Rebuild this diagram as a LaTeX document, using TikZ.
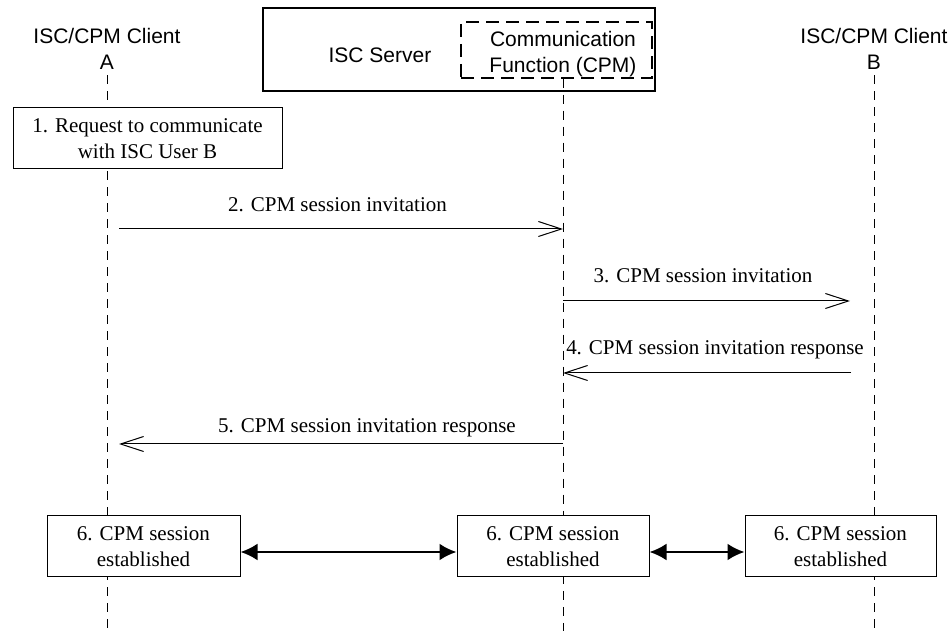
\documentclass[tikz,border=0pt]{standalone}
\usepackage{fontspec}
\setmainfont{Liberation Serif}
\setsansfont{Liberation Sans}
\usetikzlibrary{arrows.meta}

\begin{document}
\begin{tikzpicture}[x=0.5pt,y=-0.5pt,
    font=\fontsize{10.5}{13}\selectfont,
    entity/.style={font=\sffamily\fontsize{10.5}{13}\selectfont, align=center, inner sep=0pt},
    lifeline/.style={line width=0.4pt, dash pattern=on 4.5pt off 3.5pt},
    stepbox/.style={draw, line width=0.5pt, fill=white, align=center, inner sep=0pt},
    estbox/.style={stepbox, minimum height=30.5pt},
    msg/.style={line width=0.5pt, -{Straight Barb[length=11.5pt,width=7.5pt]}},
    msglabel/.style={inner sep=0pt, anchor=base},
    sync/.style={line width=1.2pt, {Latex[length=8.5pt,width=8.5pt]}-{Latex[length=8.5pt,width=8.5pt]}}]
    \useasboundingbox (0,0) rectangle (950,631);

    % entities
    \node[entity] (clientA) at (107,49) {ISC/CPM Client\\A};
    \node[entity] (clientB) at (874,49) {ISC/CPM Client\\B};
    \node[draw, line width=1pt, inner sep=0pt, minimum width=196pt, minimum height=41.5pt] (server) at (459,49.5) {};
    \node[entity] (serverlbl) at (380,55) {ISC Server};
    \node[draw, line width=0.75pt, dash pattern=on 6.5pt off 3.5pt, inner sep=0pt,
          minimum width=95.5pt, minimum height=28pt] (cpm) at (556.5,50) {};
    \node[entity] (cpmlbl) at (563,54) {Communication\\Function (CPM)};

    % lifelines
    \coordinate (bottom) at (0,631);
    \draw[lifeline] ([yshift=-2.5pt]clientA.south) -- (clientA |- bottom);
    \draw[lifeline] (cpmlbl |- cpm.south) -- (cpmlbl |- bottom);
    \draw[lifeline] ([yshift=-2.5pt]clientB.south) -- (clientB |- bottom);

    % step 1
    \node[stepbox, minimum width=134.5pt, minimum height=30.5pt] (request) at (147.5,138.5)
        {1. Request to communicate\\with ISC User B};

    % messages 2-5
    \coordinate (m2a) at (119,229);  \coordinate (m2b) at (563,229);
    \coordinate (m3a) at (563,301);  \coordinate (m3b) at (850,301);
    \coordinate (m4a) at (851,373);  \coordinate (m4b) at (563,373);
    \coordinate (m5a) at (563,444);  \coordinate (m5b) at (119,444);
    \draw[msg] (m2a) -- (m2b);
    \draw[msg] (m3a) -- (m3b);
    \draw[msg] (m4a) -- (m4b);
    \draw[msg] (m5a) -- (m5b);
    \node[msglabel] (lbl2) at (337.5,212) {2. CPM session invitation};
    \node[msglabel] (lbl3) at (703,283) {3. CPM session invitation};
    \node[msglabel] (lbl4) at (715,355) {4. CPM session invitation response};
    \node[msglabel] (lbl5) at (367,433) {5. CPM session invitation response};

    % step 6
    \node[estbox, minimum width=96.5pt] (estA) at (143.5,546.5) {6. CPM session\\established};
    \node[estbox, minimum width=96pt] (estS) at (553,546.5) {6. CPM session\\established};
    \node[estbox, minimum width=95.5pt] (estB) at (840.5,546.5) {6. CPM session\\established};
    \coordinate (synclevel) at (0,552);
    \draw[sync] (estA.east |- synclevel) -- (estS.west |- synclevel);
    \draw[sync] (estS.east |- synclevel) -- (estB.west |- synclevel);
\end{tikzpicture}
\end{document}
